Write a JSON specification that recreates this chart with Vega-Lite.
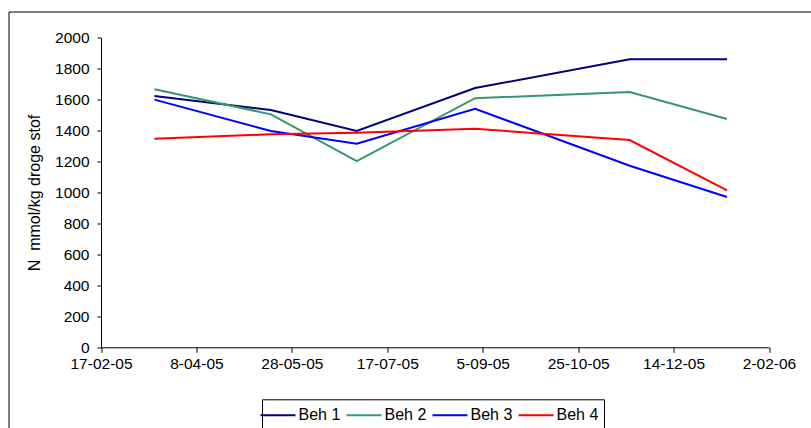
{
  "$schema": "https://vega.github.io/schema/vega-lite/v6.json",
  "width": 802.5,
  "height": 416.5,
  "autosize": {"type": "none"},
  "padding": {"left": 8.5, "top": 11.5, "right": 0, "bottom": 0},
  "background": "white",
  "config": {
    "font": "Liberation Sans",
    "view": {"stroke": "black", "strokeWidth": 1, "strokeDash": [802.5, 1219, 416.5, 0]},
    "axis": {"domainColor": "black", "tickColor": "black", "labelColor": "black", "titleColor": "black", "grid": false}
  },
  "data": {
    "values": [
      {"date": "2005-03-17", "beh": "Beh 1", "n": 1623},
      {"date": "2005-05-17", "beh": "Beh 1", "n": 1533},
      {"date": "2005-07-01", "beh": "Beh 1", "n": 1397},
      {"date": "2005-09-01", "beh": "Beh 1", "n": 1675},
      {"date": "2005-11-21", "beh": "Beh 1", "n": 1860},
      {"date": "2006-01-11", "beh": "Beh 1", "n": 1860},
      {"date": "2005-03-17", "beh": "Beh 2", "n": 1667},
      {"date": "2005-05-17", "beh": "Beh 2", "n": 1505},
      {"date": "2005-07-01", "beh": "Beh 2", "n": 1203},
      {"date": "2005-09-01", "beh": "Beh 2", "n": 1609},
      {"date": "2005-11-21", "beh": "Beh 2", "n": 1649},
      {"date": "2006-01-11", "beh": "Beh 2", "n": 1475},
      {"date": "2005-03-17", "beh": "Beh 3", "n": 1600},
      {"date": "2005-05-17", "beh": "Beh 3", "n": 1397},
      {"date": "2005-07-01", "beh": "Beh 3", "n": 1315},
      {"date": "2005-09-01", "beh": "Beh 3", "n": 1541},
      {"date": "2005-11-21", "beh": "Beh 3", "n": 1173},
      {"date": "2006-01-11", "beh": "Beh 3", "n": 971},
      {"date": "2005-03-17", "beh": "Beh 4", "n": 1348},
      {"date": "2005-05-17", "beh": "Beh 4", "n": 1376},
      {"date": "2005-07-01", "beh": "Beh 4", "n": 1386},
      {"date": "2005-09-01", "beh": "Beh 4", "n": 1412},
      {"date": "2005-11-21", "beh": "Beh 4", "n": 1339},
      {"date": "2006-01-11", "beh": "Beh 4", "n": 1014}
    ]
  },
  "mark": {"type": "line", "strokeWidth": 2},
  "encoding": {
    "x": {
      "field": "date",
      "type": "temporal",
      "scale": {
        "type": "utc",
        "domain": [
          {"year": 2005, "month": 2, "date": 17, "utc": true},
          {"year": 2006, "month": 2, "date": 2, "utc": true}
        ],
        "range": [92.5, 760.5]
      },
      "axis": {
        "title": null,
        "orient": "bottom",
        "offset": -80.7,
        "values": [
          {"year": 2005, "month": 2, "date": 17, "utc": true},
          {"year": 2005, "month": 4, "date": 8, "utc": true},
          {"year": 2005, "month": 5, "date": 28, "utc": true},
          {"year": 2005, "month": 7, "date": 17, "utc": true},
          {"year": 2005, "month": 9, "date": 5, "utc": true},
          {"year": 2005, "month": 10, "date": 25, "utc": true},
          {"year": 2005, "month": 12, "date": 14, "utc": true},
          {"year": 2006, "month": 2, "date": 2, "utc": true}
        ],
        "format": "%-d-%m-%y",
        "labelFontSize": 15.5,
        "labelPadding": 4,
        "tickSize": 5,
        "labelFlush": false,
        "labelOverlap": false
      }
    },
    "y": {
      "field": "n",
      "type": "quantitative",
      "scale": {"domain": [0, 2000], "range": [335.8, 26.2], "nice": false},
      "axis": {
        "title": "N\u00a0 mmol/kg droge stof",
        "orient": "left",
        "offset": -92.5,
        "values": [0, 200, 400, 600, 800, 1000, 1200, 1400, 1600, 1800, 2000],
        "format": "d",
        "labelFontSize": 15.5,
        "labelPadding": 8,
        "tickSize": 4,
        "titleFontSize": 16,
        "titleFontWeight": "normal",
        "titlePadding": 12
      }
    },
    "color": {
      "field": "beh",
      "type": "nominal",
      "scale": {
        "domain": ["Beh 1", "Beh 2", "Beh 3", "Beh 4"],
        "range": ["#000080", "#339966", "#0000FF", "#FF0000"]
      },
      "legend": {
        "title": null,
        "orient": "none",
        "legendX": 253.5,
        "legendY": 387.8,
        "direction": "horizontal",
        "strokeColor": "black",
        "padding": 5,
        "symbolType": "M-1.75,0H1.75",
        "symbolSize": 400,
        "symbolStrokeWidth": 2,
        "labelFontSize": 16,
        "labelColor": "black",
        "labelOffset": 9.5,
        "columnPadding": 1
      }
    }
  }
}
